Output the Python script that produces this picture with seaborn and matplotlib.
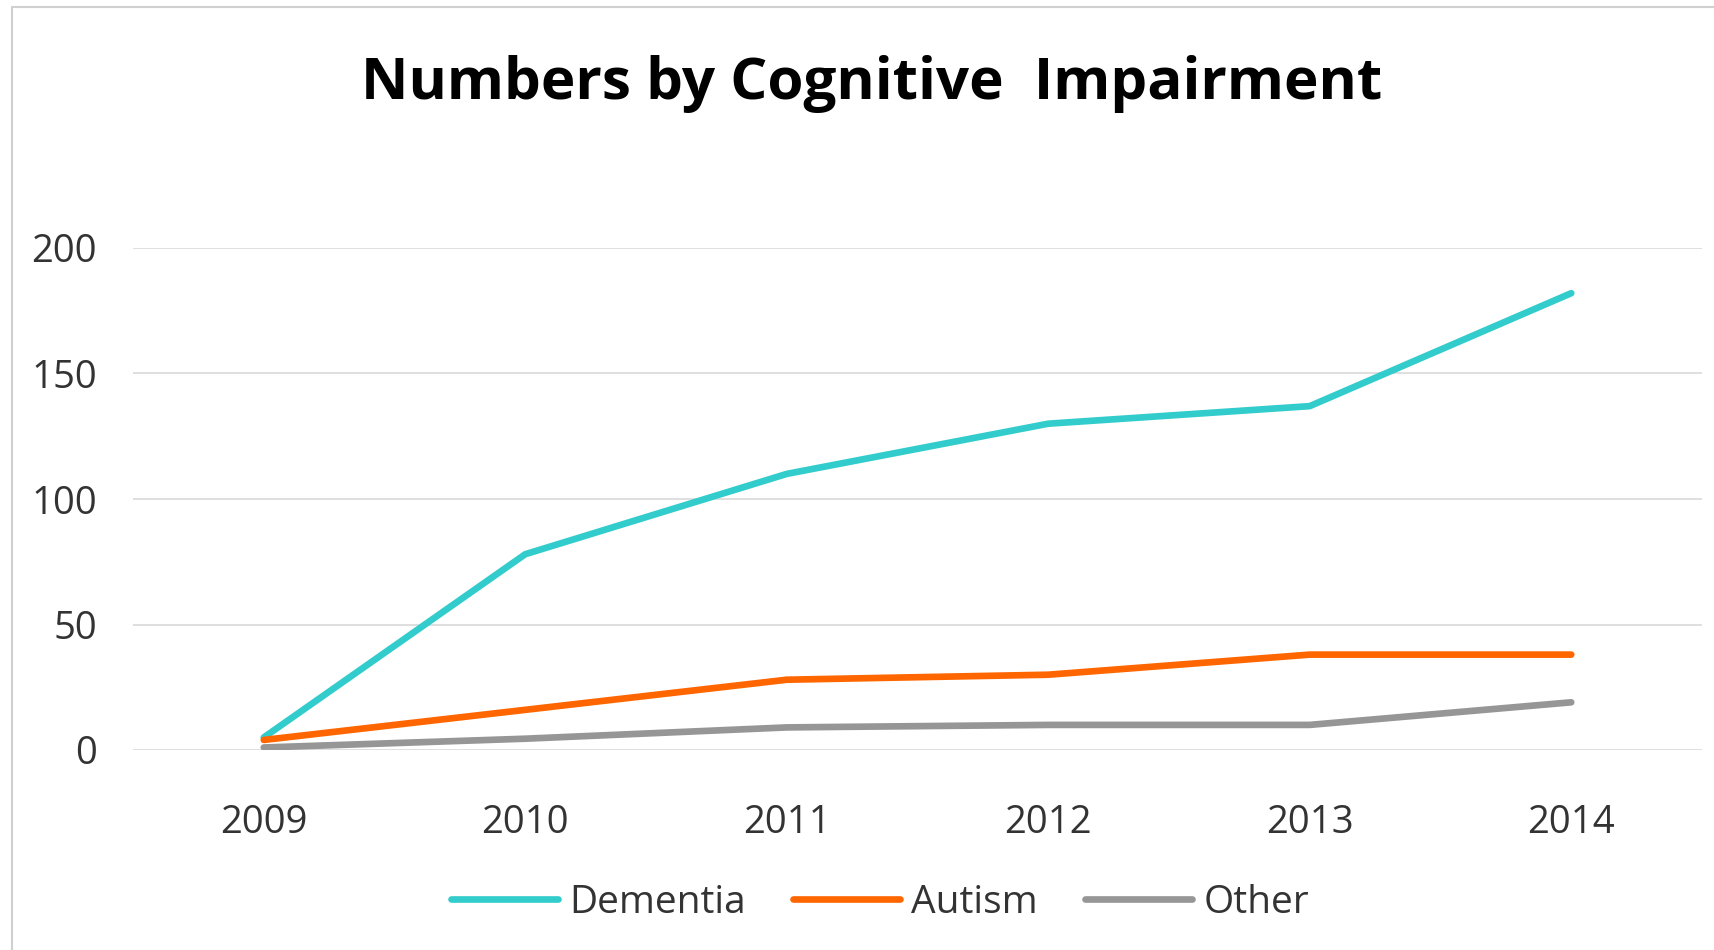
import matplotlib
matplotlib.use("Agg")
import matplotlib.pyplot as plt
import seaborn as sns
import pandas as pd
from matplotlib.patches import Rectangle
from matplotlib.lines import Line2D

years = ["2009", "2010", "2011", "2012", "2013", "2014"]
dementia = [5, 78, 110, 130, 137, 182]
autism = [4, 16, 28, 30, 38, 38]
other = [1, 4.5, 9, 10, 10, 19]
series_names = ["Dementia", "Autism", "Other"]
colors = ["#33CCCC", "#FF6600", "#969696"]
y_ticks = [0, 50, 100, 150, 200]

df = pd.DataFrame({
    "Year": years * 3,
    "Value": dementia + autism + other,
    "Series": [series_names[0]] * 6 + [series_names[1]] * 6 + [series_names[2]] * 6,
})

sns.set_theme(style="white")
plt.rcParams["font.family"] = ["Open Sans", "DejaVu Sans"]

fig = plt.figure(figsize=(17.14, 9.5), dpi=100)
ax = fig.add_axes([133 / 1714, 1 - 750 / 950, (1702 - 133) / 1714, (750 - 248) / 950])

LW = 4.8
sns.lineplot(data=df, x="Year", y="Value", hue="Series", palette=colors,
             linewidth=LW, ax=ax, sort=False, legend=False)

ax.set_xlim(-0.5, 5.5)
ax.set_ylim(0, 200)
ax.set_yticks(y_ticks)
ax.set_yticklabels([str(v) for v in y_ticks])
ax.yaxis.grid(True, color="#D9D9D9", linewidth=1.2)
ax.xaxis.grid(False)
ax.set_axisbelow(True)
for s in ax.spines.values():
    s.set_visible(False)
ax.tick_params(axis="both", length=0, labelsize=27.5, colors="#333333")
ax.tick_params(axis="y", pad=26)
ax.tick_params(axis="x", pad=39)
ax.set_xlabel("")
ax.set_ylabel("")

fig.text(872 / 1714, 1 - 84 / 950, "Numbers by Cognitive  Impairment",
         ha="center", va="center", fontsize=42, fontweight="bold",
         family=["Open Sans", "DejaVu Sans"], color="#000000")

handles = [Line2D([0], [0], color=c, linewidth=LW) for c in colors]
leg = fig.legend(handles, series_names, loc="center", bbox_to_anchor=(880 / 1714, 1 - 903 / 950),
                 ncol=3, frameon=False, fontsize=28, handlelength=2.75, columnspacing=1.2,
                 handletextpad=0.3)
for t in leg.get_texts():
    t.set_color("#333333")

fig.patches.append(Rectangle((12 / 1714, -0.1), 1.2, 1 - 6.5 / 950 + 0.1,
                             transform=fig.transFigure, fill=False,
                             edgecolor="#D0D0D0", linewidth=1.5))

fig.savefig("out.png", dpi=100)
